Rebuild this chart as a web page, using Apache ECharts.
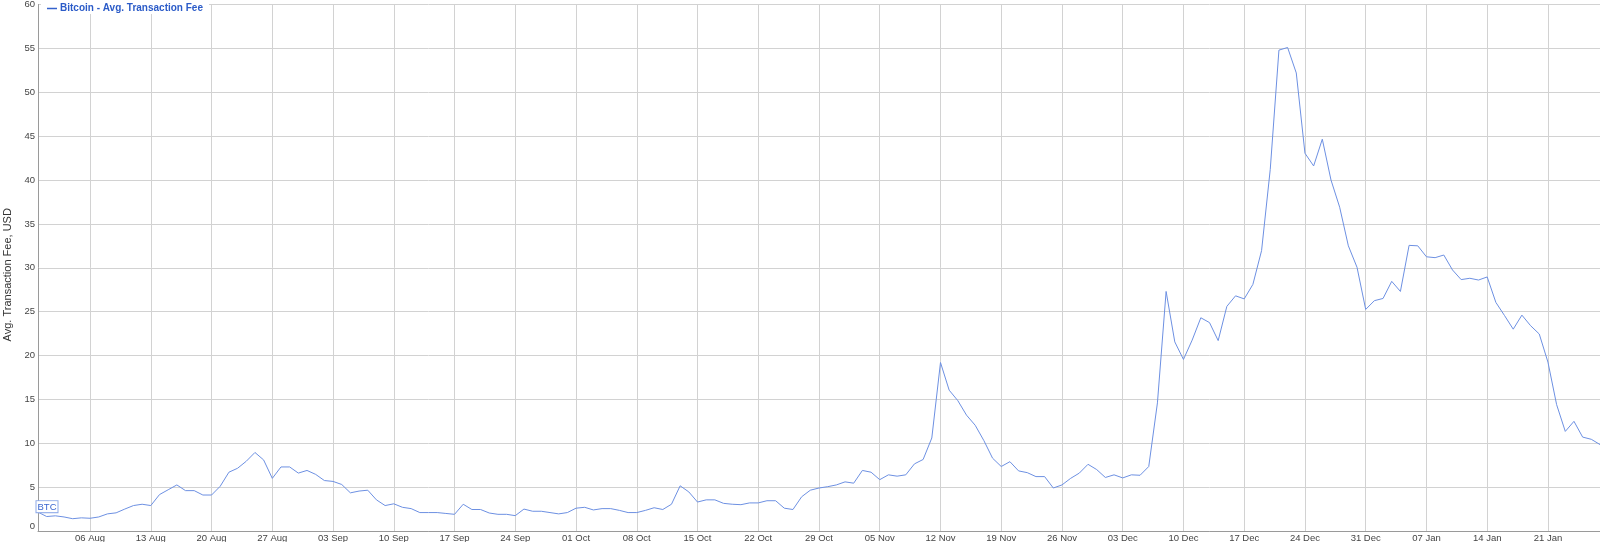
<!DOCTYPE html>
<html>
<head>
<meta charset="utf-8">
<script src="https://cdn.jsdelivr.net/npm/echarts@6/dist/echarts.min.js"></script>
<style>
html,body{margin:0;padding:0;background:#fff;}
#chart{width:1600px;height:542px;}
</style>
</head>
<body>
<div id="chart"></div>
<script>
// Daily data, 31 Jul 2017 .. 27 Jan 2018
var startDate = Date.UTC(2017, 6, 31);
var dayCount = 181;
var monthNames = ['Jan','Feb','Mar','Apr','May','Jun','Jul','Aug','Sep','Oct','Nov','Dec'];

var feeValues = [
  2.15, 1.65, 1.73, 1.6, 1.4, 1.5, 1.45, 1.6, 1.95, 2.07,
  2.5, 2.9, 3.05, 2.9, 4.15, 4.7, 5.25, 4.6, 4.6, 4.1,
  4.1, 5.1, 6.7, 7.15, 7.95, 8.95, 8.1, 6.0, 7.3, 7.3,
  6.6, 6.9, 6.45, 5.75, 5.65, 5.3, 4.35, 4.55, 4.65, 3.55,
  2.9, 3.1, 2.7, 2.55, 2.1, 2.1, 2.1, 2.0, 1.9, 3.05,
  2.45, 2.45, 2.05, 1.9, 1.9, 1.75, 2.5, 2.25, 2.25, 2.1,
  1.95, 2.1, 2.6, 2.7, 2.4, 2.55, 2.55, 2.35, 2.1, 2.1,
  2.35, 2.65, 2.45, 3.05, 5.15, 4.45, 3.3, 3.55, 3.55, 3.15,
  3.05, 3.0, 3.2, 3.2, 3.45, 3.45, 2.6, 2.45, 3.9, 4.65,
  4.9, 5.05, 5.25, 5.6, 5.45, 6.9, 6.7, 5.85, 6.4, 6.25,
  6.4, 7.65, 8.15, 10.6, 19.2, 16.05, 14.85, 13.2, 12.05, 10.3,
  8.3, 7.35, 7.9, 6.85, 6.65, 6.2, 6.2, 4.9, 5.25, 6.0,
  6.6, 7.6, 7.0, 6.1, 6.4, 6.05, 6.4, 6.35, 7.35, 14.6,
  27.3, 21.55, 19.55, 21.75, 24.3, 23.75, 21.7, 25.6, 26.8, 26.45,
  28.1, 31.95, 41.2, 54.8, 55.1, 52.2, 43.05, 41.6, 44.65, 40.0,
  36.9, 32.5, 30.05, 25.25, 26.25, 26.5, 28.45, 27.3, 32.55, 32.5,
  31.25, 31.15, 31.45, 29.75, 28.65, 28.8, 28.6, 28.95, 26.05, 24.55,
  23.0, 24.6, 23.4, 22.45, 19.25, 14.4, 11.35, 12.5, 10.7, 10.45,
  9.85
];

var yTicks = { min: 0, max: 60, interval: 5 };
var seriesName = 'Bitcoin - Avg. Transaction Fee';
var flagText = 'BTC';

var categories = [];
for (var i = 0; i < dayCount; i++) {
  var d = new Date(startDate + i * 86400000);
  var dd = d.getUTCDate();
  categories.push((dd < 10 ? '0' : '') + dd + ' ' + monthNames[d.getUTCMonth()]);
}
// weekly ticks on Sundays (31 Jul 2017 is a Monday)
function isSunday(idx) { return idx % 7 === 6; }

var chart = echarts.init(document.getElementById('chart'), null, { renderer: 'canvas' });
chart.setOption({
  animation: false,
  backgroundColor: '#ffffff',
  textStyle: { fontFamily: 'Arial, "Liberation Sans", sans-serif' },
  grid: { left: 38, right: 0, top: 4.5, bottom: 11, containLabel: false, outerBoundsMode: 'none' },
  legend: {
    show: true,
    left: 41,
    top: 0,
    padding: [3, 6, 0, 6],
    backgroundColor: '#ffffff',
    icon: 'rect',
    itemWidth: 10,
    itemHeight: 1.5,
    itemGap: 4,
    itemStyle: { color: '#3562cc' },
    textStyle: { color: '#2b5bc8', fontSize: 10, fontWeight: 'bold', lineHeight: 11, padding: [0, 0, 0, -2] },
    data: [seriesName]
  },
  xAxis: {
    type: 'category',
    data: categories,
    boundaryGap: false,
    axisLine: { show: true, lineStyle: { color: '#9a9a9a', width: 1 } },
    axisTick: { show: false },
    axisLabel: {
      interval: function (idx) { return isSunday(idx); },
      color: '#444',
      fontSize: 9.5,
      margin: 2
    },
    splitLine: {
      show: true,
      interval: function (idx) { return isSunday(idx); },
      lineStyle: { color: '#d2d2d2', width: 1 }
    }
  },
  yAxis: {
    type: 'value',
    min: yTicks.min,
    max: yTicks.max,
    interval: yTicks.interval,
    name: 'Avg. Transaction Fee, USD',
    nameLocation: 'middle',
    nameGap: 23,
    nameTextStyle: { color: '#333', fontSize: 11, padding: [0, 14, 0, 0] },
    axisLine: { show: true, lineStyle: { color: '#9a9a9a', width: 1 } },
    axisTick: { show: false },
    axisLabel: { color: '#444', fontSize: 9.5, margin: 3, verticalAlignMinLabel: 'bottom' },
    splitLine: { show: true, lineStyle: { color: '#d2d2d2', width: 1 } }
  },
  series: [{
    name: seriesName,
    type: 'line',
    data: feeValues,
    showSymbol: false,
    symbol: 'none',
    lineStyle: { color: '#6d90e2', width: 1 },
    itemStyle: { color: '#6d90e2' },
    markPoint: {
      symbol: 'rect',
      symbolSize: 0,
      data: [{ coord: [categories[0], feeValues[0]] }],
      label: {
        show: true,
        formatter: flagText,
        position: 'top',
        distance: 0,
        offset: [9, 0],
        color: '#3a66d0',
        fontSize: 9.5,
        backgroundColor: '#ffffff',
        borderColor: '#8eaae8',
        borderWidth: 1,
        padding: [1, 1, 0, 1]
      }
    }
  }]
});
</script>
</body>
</html>
